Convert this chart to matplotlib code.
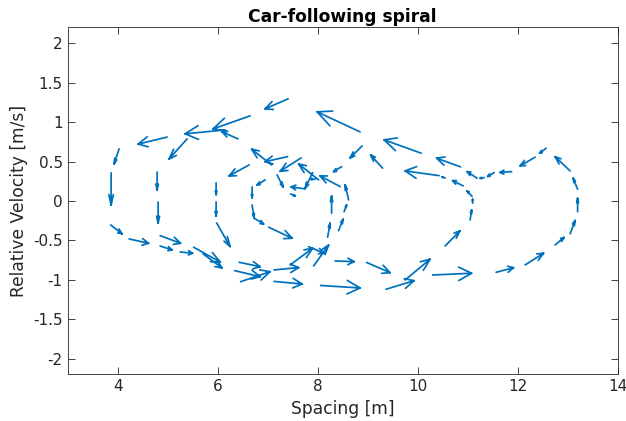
import numpy as np
import matplotlib
matplotlib.use("Agg")
import matplotlib.pyplot as plt
from matplotlib.ticker import FuncFormatter

# arrow tails (spacing, relative velocity) and arrow vectors
x = [7.41, 6.65, 6.15, 6.41, 4.99, 5.39, 4.03, 3.87, 4.79, 4.81,
     6.63, 5.97, 5.97, 6.69, 6.69, 7.08, 7.40, 7.67, 8.85, 8.89,
     9.30, 8.48, 10.07, 10.86, 10.43, 10.55, 10.91, 11.09, 11.10, 11.05,
     10.55, 9.75, 9.37, 10.30, 11.57, 12.15, 12.75, 13.05, 13.20, 13.20,
     13.05, 12.57, 12.35, 11.88, 11.53, 11.33, 11.19,
     3.86, 4.23, 4.85, 4.85, 5.25, 5.52, 5.71, 5.98, 6.43, 6.34,
     6.46, 7.13, 7.13, 7.45, 7.82, 7.92, 8.06, 8.35, 8.98, 7.02,
     6.73, 8.20, 8.42, 8.28, 8.53, 8.62, 8.45, 8.02, 7.95, 7.90,
     7.75, 7.19, 7.46, 6.95]
y = [1.295, 1.079, 0.901, 0.787, 0.81, 0.787, 0.66, 0.356, 0.368, -0.013,
     0.457, 0.229, -0.013, 0.178, -0.051, 0.457, 0.562, 0.546, 0.876, 0.698,
     0.415, 0.435, 0.606, 0.432, 0.321, 0.292, 0.191, 0.057, -0.029, -0.241,
     -0.571, -1.002, -1.12, -0.939, -0.905, -0.812, -0.558, -0.418, -0.136, 0.149,
     0.381, 0.669, 0.555, 0.372, 0.359, 0.296, 0.288,
     -0.304, -0.482, -0.44, -0.571, -0.647, -0.587, -0.672, -0.279, -0.778, -0.884,
     -1.024, -0.875, -1.021, -0.812, -0.58, -0.825, -1.072, -0.761, -0.78, -0.333,
     -0.219, -0.46, -0.377, -0.156, -0.136, 0.013, 0.182, 0.267, 0.276, 0.359,
     0.153, 0.33, 0.089, 0.267]
u = [-0.46, -0.74, -0.80, -0.32, -0.58, -0.36, -0.10, 0.0, 0.0, 0.0,
     -0.40, 0.0, 0.0, 0.0, 0.04, -0.40, -0.45, -0.42, -0.86, -0.24,
     -0.24, -0.16, -0.74, -0.48, -0.68, -0.06, -0.21, -0.10, 0.0, 0.03,
     0.30, 0.50, 0.56, 0.78, 0.35, 0.37, 0.18, 0.10, 0.0, -0.09,
     -0.30, -0.13, -0.30, -0.23, -0.13, -0.08, -0.20,
     0.23, 0.39, 0.41, 0.24, 0.25, 0.53, 0.38, 0.27, 0.42, 0.51,
     0.59, 0.49, 0.56, 0.45, 0.31, 0.30, 0.79, 0.38, 0.47, 0.47,
     0.19, 0.05, 0.09, 0.0, 0.05, -0.07, -0.40, -0.40, -0.09, -0.15,
     -0.28, 0.12, 0.09, -0.16]
v = [-0.127, -0.165, -0.05, 0.089, -0.089, -0.254, -0.19, -0.41, -0.23, -0.27,
     -0.14, -0.15, -0.18, -0.14, -0.165, 0.20, -0.064, -0.17, 0.254, -0.152,
     0.169, -0.064, 0.169, 0.11, 0.06, 0.013, 0.067, 0.07, 0.05, 0.127,
     0.194, 0.263, 0.109, 0.022, 0.058, 0.149, 0.095, 0.171, 0.17, 0.14,
     0.18, -0.064, -0.11, -0.01, -0.048, -0.008, 0.084,
     -0.114, -0.055, -0.097, -0.051, -0.016, -0.187, -0.178, -0.30, -0.056, -0.076,
     0.127, 0.03, -0.032, 0.212, -0.084, 0.266, -0.032, -0.009, -0.13, -0.14,
     -0.073, 0.178, 0.145, 0.22, 0.085, 0.19, 0.136, 0.203, 0.0, -0.20,
     0.025, -0.152, -0.025, -0.064]

x_ticks = [4, 6, 8, 10, 12, 14]
y_ticks = [-2, -1.5, -1, -0.5, 0, 0.5, 1, 1.5, 2]


def open_quiver(ax, x, y, u, v, alpha=0.33, beta=0.33, **kw):
    """Quiver with open V heads, head built in data units."""
    x, y, u, v = map(np.asarray, (x, y, u, v))
    xe, ye = x + u, y + v
    nan = np.full_like(x, np.nan)
    shaft_x = np.column_stack([x, xe, nan]).ravel()
    shaft_y = np.column_stack([y, ye, nan]).ravel()
    h1x = xe - alpha * (u + beta * v)
    h1y = ye - alpha * (v - beta * u)
    h2x = xe - alpha * (u - beta * v)
    h2y = ye - alpha * (v + beta * u)
    head_x = np.column_stack([h1x, xe, h2x, nan]).ravel()
    head_y = np.column_stack([h1y, ye, h2y, nan]).ravel()
    ax.plot(np.concatenate([shaft_x, head_x]), np.concatenate([shaft_y, head_y]),
            solid_capstyle='round', solid_joinstyle='round', **kw)


plt.rcParams['axes.unicode_minus'] = False
fig = plt.figure(figsize=(6.26, 4.21), dpi=100)
ax = fig.add_axes([0.108, 0.1107, 0.8786, 0.824])

open_quiver(ax, x, y, u, v, color='#0072BD', linewidth=1.25)

ax.set_xlim(3, 14)
ax.set_ylim(-2.2, 2.2)
ax.set_xticks(x_ticks)
ax.set_yticks(y_ticks)
ax.yaxis.set_major_formatter(FuncFormatter(lambda t, p: '%g' % t))
ax.tick_params(direction='in', top=True, right=True, length=5, width=0.6,
               colors='#262626', labelsize=11)
for s in ax.spines.values():
    s.set_color('#262626')
    s.set_linewidth(0.6)

ax.set_xlabel('Spacing [m]', fontsize=12.3, color='#262626')
ax.set_ylabel('Relative Velocity [m/s]', fontsize=12.3, color='#262626')
ax.set_title('Car-following spiral', fontsize=12.3, fontweight='bold', pad=4)

fig.savefig('out.png', dpi=100)
